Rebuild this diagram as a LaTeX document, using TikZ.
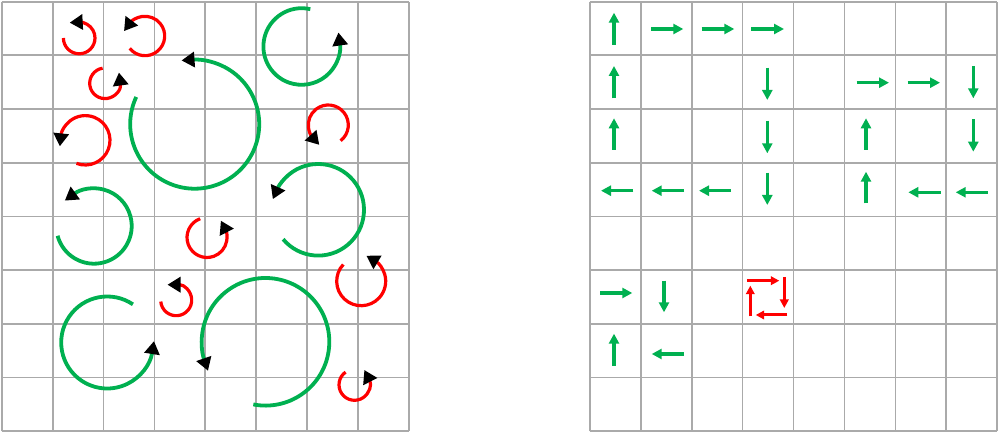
\documentclass[tikz,border=0pt]{standalone}
\usepackage{xcolor}
\usepackage{tikz}
\usetikzlibrary{arrows.meta}
\definecolor{vgreen}{RGB}{0,176,80}
\definecolor{vred}{RGB}{255,0,0}
\definecolor{gridgray}{RGB}{170,170,170}

\begin{document}
\begin{tikzpicture}[x=1pt, y=1pt,
    gridline/.style={draw=gridgray, line width=1.8pt},
    greenarc/.style={draw=vgreen, line width=3.8pt, -{Triangle[length=13pt, width=15pt, color=black]}, shorten >=-8.7pt},
    redarc/.style={draw=vred, line width=3.2pt, -{Triangle[length=13pt, width=15pt, color=black]}, shorten >=-8.7pt},
    flow/.style={draw=vgreen, line width=3.3pt, -{Triangle[length=10pt, width=10pt]}},
    redflow/.style={draw=vred, line width=3pt, -{Triangle[length=8.5pt, width=8.5pt]}}]
    \useasboundingbox (0,0) rectangle (1000,433);

    % Grids
    \draw[gridline, shift={(1.7,1.7)}] (0,0) grid[xstep=50.91, ystep=53.7] (407.4,429.7);
    \draw[gridline, shift={(589.7,1.7)}] (0,0) grid[xstep=50.95, ystep=53.7] (407.7,429.7);

    % Eddy centres (left grid)
    \coordinate (vA) at (79.2,395.0);
    \coordinate (vB) at (145,397);
    \coordinate (vC) at (105,349.7);
    \coordinate (vD) at (85.3,292.7);
    \coordinate (vE) at (94,207);
    \coordinate (vF) at (194.7,308.8);
    \coordinate (vG) at (301.7,386.5);
    \coordinate (vH) at (328.3,308);
    \coordinate (vI) at (318.2,223.2);
    \coordinate (vJ) at (207,195.5);
    \coordinate (vK) at (176.2,132.8);
    \coordinate (vL) at (361.2,151.8);
    \coordinate (vM) at (265.5,91.2);
    \coordinate (vN) at (107.2,90.5);
    \coordinate (vO) at (354.5,48.2);

    % Small red eddies
    \draw[redarc] ([shift={(180:15.8)}]vA) arc[start angle=180, end angle=453, radius=15.8];
    \draw[redarc] ([shift={(219:19.7)}]vB) arc[start angle=219, end angle=503, radius=19.7];
    \draw[redarc] ([shift={(99:15.3)}]vC) arc[start angle=99, end angle=368, radius=15.3];
    \draw[redarc] ([shift={(249:24.7)}]vD) arc[start angle=249, end angle=534, radius=24.7];
    \draw[redarc] ([shift={(308:20)}]vH) arc[start angle=308, end angle=582, radius=20];
    \draw[redarc] ([shift={(110:20)}]vJ) arc[start angle=110, end angle=387, radius=20];
    \draw[redarc] ([shift={(185:15.5)}]vK) arc[start angle=185, end angle=450, radius=15.5];
    \draw[redarc] ([shift={(137:24.5)}]vL) arc[start angle=137, end angle=419, radius=24.5];
    \draw[redarc] ([shift={(125:15.5)}]vO) arc[start angle=125, end angle=387, radius=15.5];

    % Large green eddies
    \draw[greenarc] ([shift={(195:37.7)}]vE) arc[start angle=195, end angle=486, radius=37.7];
    \draw[greenarc] ([shift={(155:64.5)}]vF) arc[start angle=155, end angle=454, radius=64.5];
    \draw[greenarc] ([shift={(77:38.3)}]vG) arc[start angle=77, end angle=368, radius=38.3];
    \draw[greenarc] ([shift={(220:45.8)}]vI) arc[start angle=220, end angle=516, radius=45.8];
    \draw[greenarc] ([shift={(259:63.8)}]vM) arc[start angle=259, end angle=559, radius=63.8];
    \draw[greenarc] ([shift={(56:46)}]vN) arc[start angle=56, end angle=351, radius=46];

    % Cell arrows (right grid), row by row
    \draw[flow] (614,388) -- (614,420.3);
    \draw[flow] (651,404) -- (683.3,404);
    \draw[flow] (701.7,404) -- (734.3,404);
    \draw[flow] (751,404) -- (784,404);

    \draw[flow] (614,334.7) -- (614,367);
    \draw[flow] (767.3,365.3) -- (767.3,333);
    \draw[flow] (856.7,350.3) -- (889,350.3);
    \draw[flow] (907.7,350.3) -- (940,350.3);
    \draw[flow] (973.3,367) -- (973.3,334.7);

    \draw[flow] (614,283) -- (614,314.7);
    \draw[flow] (767.3,312.3) -- (767.3,279.7);
    \draw[flow] (866,283) -- (866,314.7);
    \draw[flow] (973.3,313.7) -- (973.3,281.3);

    \draw[flow] (633.3,242.3) -- (601,242.3);
    \draw[flow] (684,242.3) -- (651.7,242.3);
    \draw[flow] (731,242.3) -- (699,242.3);
    \draw[flow] (767.3,260.3) -- (767.3,228);
    \draw[flow] (866,229.7) -- (866,261.3);
    \draw[flow] (940.7,240.7) -- (908.3,240.7);
    \draw[flow] (987.7,240.7) -- (955.7,240.7);

    \draw[flow] (600,140) -- (632.3,140);
    \draw[flow] (664,152.3) -- (664,120.7);
    \draw[flow] (614,67.3) -- (614,99.3);
    \draw[flow] (684,79) -- (651.7,79);

    % Red loop in one cell
    \draw[redflow] (747.3,152.3) -- (779.3,152.3);
    \draw[redflow] (784.3,156) -- (784.3,125);
    \draw[redflow] (787.3,118) -- (755.7,118);
    \draw[redflow] (750.3,116.5) -- (750.3,147.3);
\end{tikzpicture}
\end{document}
